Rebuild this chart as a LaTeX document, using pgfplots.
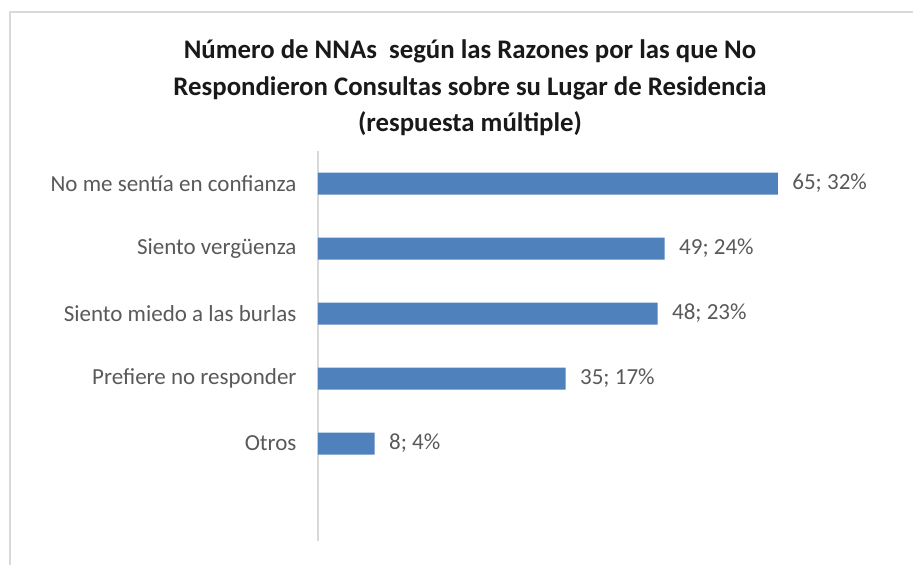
\documentclass[border=0pt]{standalone}
\usepackage{pgfplots}
\usepackage{pgfplotstable}
\pgfplotsset{compat=1.18}
\usepackage{fontspec}
\setmainfont{Carlito}
\definecolor{barblue}{HTML}{4F81BD}
\definecolor{txtgray}{HTML}{595959}
\definecolor{axgray}{HTML}{D9D9D9}

% count, position on the axis, percent
\pgfplotstableread{
n  pos pct
65 0   32
49 1   24
48 2   23
35 3   17
8  4   4
}\razones

\begin{document}
\begin{tikzpicture}
\useasboundingbox (0pt,0pt) rectangle (913pt,565pt);
% chart frame, only left and top edges visible
\draw[axgray, line width=1.5pt] (10pt,0pt) -- (10pt,553pt) -- (913pt,553pt);
\node[font=\bfseries\fontsize{26.8}{36.5}\selectfont, align=center, text=black!90]
  at (470pt,477pt) {Número de NNAs\ \ según las Razones por las que No\\
  Respondieron Consultas sobre su Lugar de Residencia\\(respuesta múltiple)};
\begin{axis}[
    at={(318pt,24pt)}, anchor=south west
  , scale only axis
  , width=566pt, height=390pt
  , xbar
  , xmin=0, xmax=80
  , ymin=-0.5, ymax=5.5
  , y dir=reverse
  , bar width=22pt
  , axis x line=none
  , axis y line*=left
  , y axis line style={draw=axgray, line width=1.3pt, -}
  , ytick={0,1,2,3,4}
  , yticklabels={No me sentía en confianza, Siento vergüenza, Siento miedo a las burlas, Prefiere no responder, Otros}
  , major tick length=0pt
  , yticklabel style={font=\fontsize{23}{26}\selectfont, text=txtgray, xshift=-18pt}
  , /pgf/number format/assume math mode=true
  , point meta=explicit
  , nodes near coords={\pgfmathprintnumber{\pgfkeysvalueof{/data point/x}}; \pgfmathprintnumber{\pgfplotspointmeta}\%}
  , nodes near coords style={font=\fontsize{23}{26}\selectfont, text=txtgray, anchor=west, xshift=11pt}
  ]
\addplot[fill=barblue, draw=none] table[x=n, y=pos, meta=pct] {\razones};
\end{axis}
\end{tikzpicture}
\end{document}
